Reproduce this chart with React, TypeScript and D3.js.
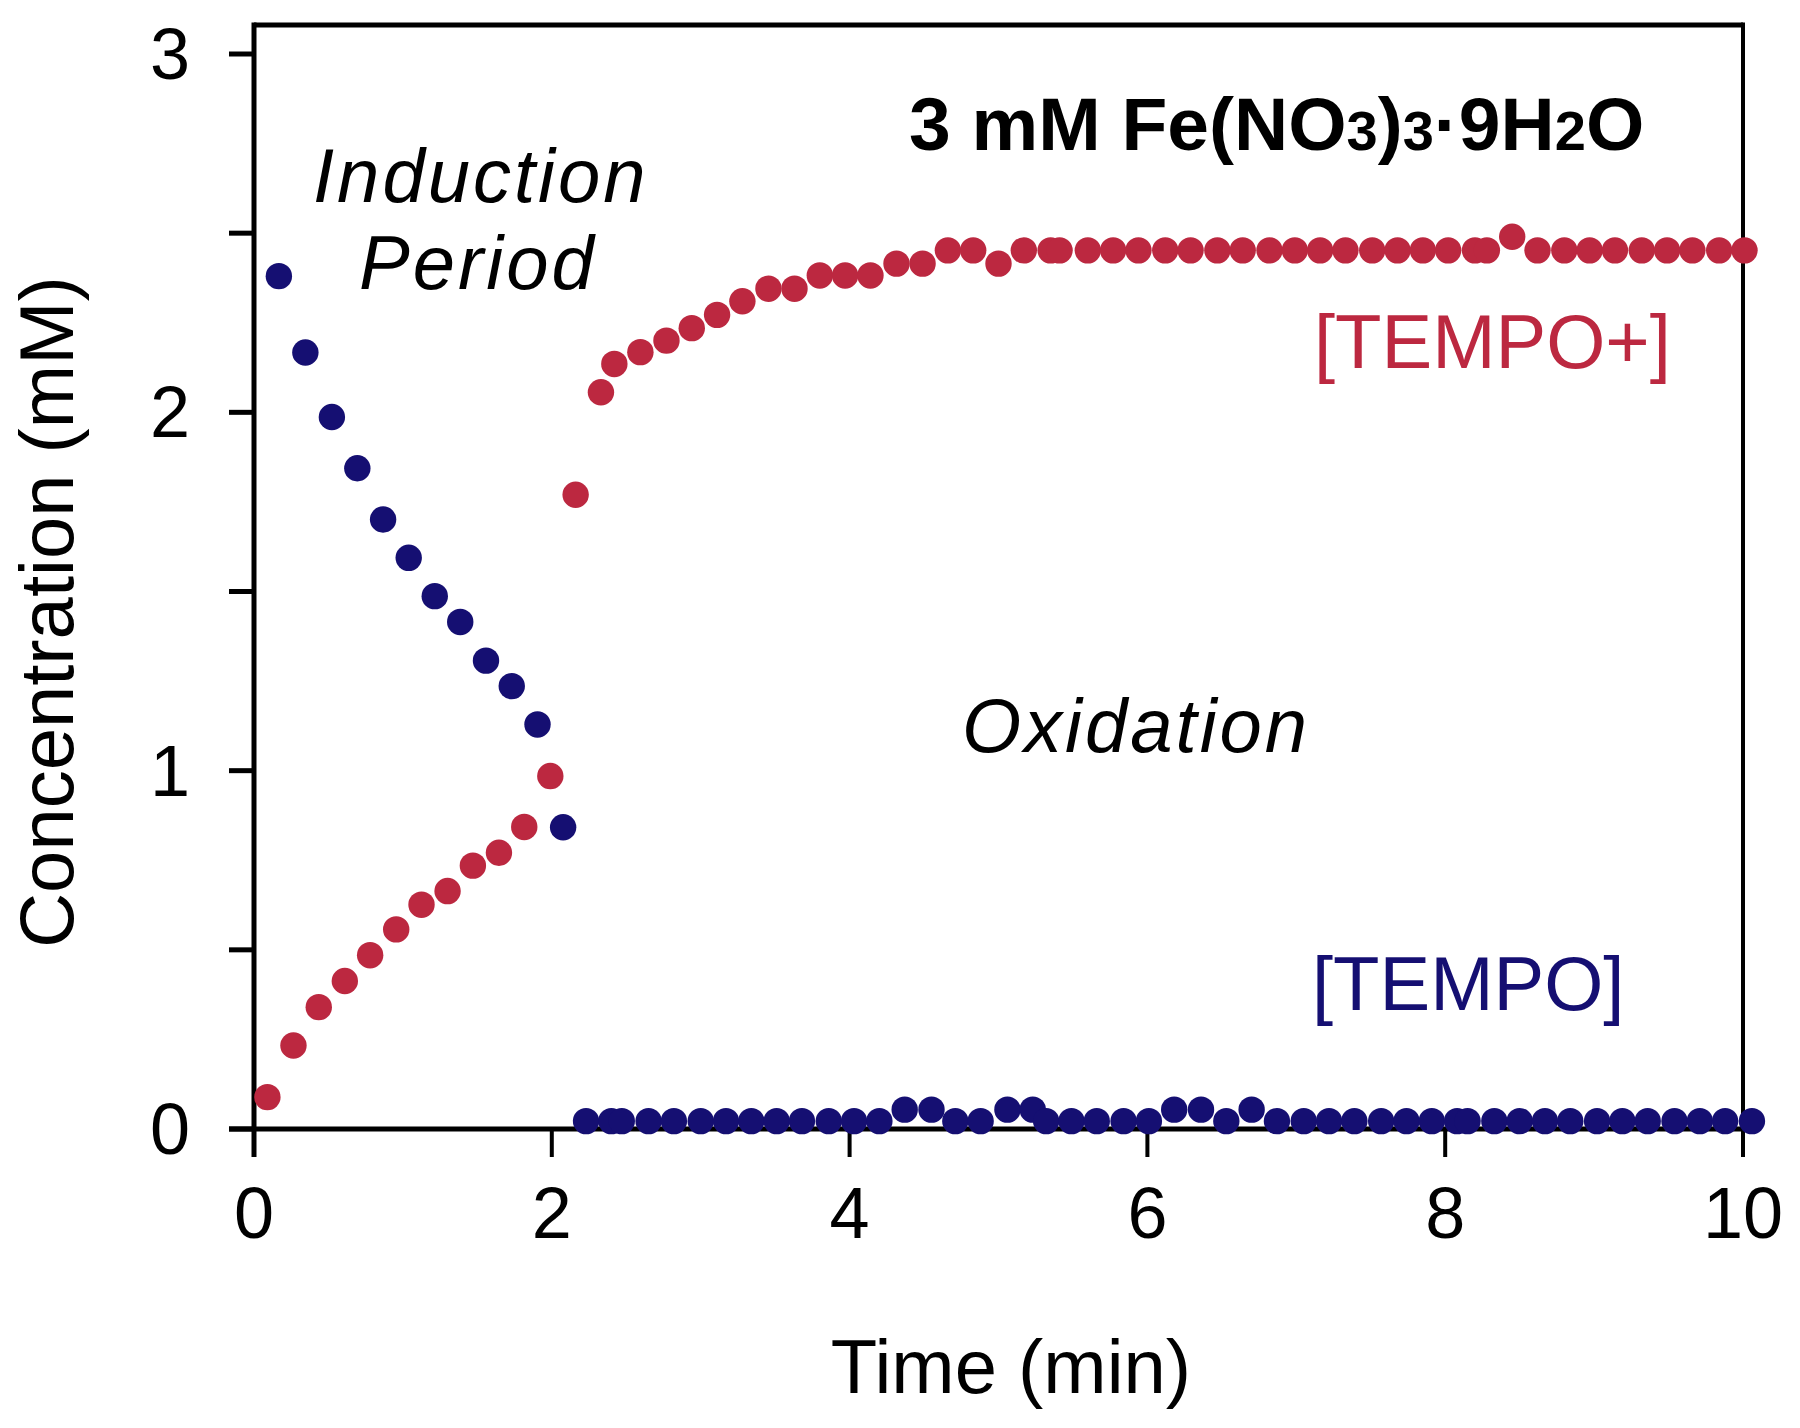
import React from "react";
import * as d3 from "d3";

// ---- Data ----
const tempoPlusTime = [
  0.09, 0.265, 0.435, 0.61, 0.78, 0.955, 1.125, 1.3, 1.47, 1.645, 1.815, 1.99, 2.16,
  2.33, 2.42, 2.595, 2.77, 2.94, 3.11, 3.28, 3.455, 3.63, 3.8, 3.97, 4.14, 4.315, 4.49,
  4.66, 4.83, 5.0, 5.17, 5.35, 5.41, 5.6, 5.77, 5.94, 6.12, 6.29, 6.47, 6.64, 6.82, 6.99,
  7.16, 7.33, 7.51, 7.68, 7.85, 8.02, 8.2, 8.28, 8.45, 8.62, 8.8, 8.97, 9.14, 9.32, 9.49,
  9.66, 9.84, 10.01,
];
const tempoPlusConc = [
  0.089, 0.233, 0.34, 0.413, 0.485, 0.557, 0.626, 0.664, 0.735, 0.771, 0.843, 0.985, 1.77,
  2.056, 2.135, 2.168, 2.2, 2.235, 2.272, 2.31, 2.345, 2.345, 2.382, 2.382, 2.382, 2.415, 2.415,
  2.452, 2.452, 2.415, 2.452, 2.452, 2.452, 2.452, 2.452, 2.452, 2.452, 2.452, 2.452, 2.452, 2.452, 2.452,
  2.452, 2.452, 2.452, 2.452, 2.452, 2.452, 2.452, 2.452, 2.49, 2.452, 2.452, 2.452, 2.452, 2.452, 2.452,
  2.452, 2.452, 2.452,
];
const tempoTime = [
  0.167, 0.345, 0.523, 0.694, 0.867, 1.039, 1.214, 1.385, 1.558, 1.731, 1.904, 2.076,
  2.23, 2.4, 2.47, 2.65, 2.82, 3.0, 3.17, 3.34, 3.51, 3.68, 3.86, 4.03, 4.2, 4.37, 4.55,
  4.71, 4.88, 5.06, 5.23, 5.32, 5.49, 5.66, 5.84, 6.01, 6.18, 6.36, 6.53, 6.7, 6.87, 7.05,
  7.22, 7.39, 7.57, 7.74, 7.91, 8.08, 8.15, 8.33, 8.5, 8.67, 8.84, 9.02, 9.19, 9.36, 9.54,
  9.71, 9.88, 10.06,
];
const tempoConc = [
  2.38, 2.167, 1.987, 1.844, 1.701, 1.594, 1.487, 1.415, 1.307, 1.236, 1.129, 0.842,
  0.022, 0.022, 0.022, 0.022, 0.022, 0.022, 0.022, 0.022, 0.022, 0.022, 0.022, 0.022, 0.022, 0.054, 0.054,
  0.022, 0.022, 0.054, 0.054, 0.022, 0.022, 0.022, 0.022, 0.022, 0.054, 0.054, 0.022, 0.054, 0.022, 0.022,
  0.022, 0.022, 0.022, 0.022, 0.022, 0.022, 0.022, 0.022, 0.022, 0.022, 0.022, 0.022, 0.022, 0.022, 0.022,
  0.022, 0.022, 0.022,
];
const xTicks = [0, 2, 4, 6, 8, 10];
const yTicks = [0, 0.5, 1, 1.5, 2, 2.5, 3];
const yLabelTicks = [0, 1, 2, 3];

const RED = "#BC2840";
const BLUE = "#150F72";
const FONT = "'Liberation Sans', Arial, Helvetica, sans-serif";

export default function App() {
  const W = 1800;
  const H = 1428;
  const x = d3.scaleLinear().domain([0, 10]).range([254, 1743]);
  const y = d3.scaleLinear().domain([0, 3]).range([1129, 54]);
  const topY = 25;
  const r = 13.2;

  const red = tempoPlusTime.map((t, i) => ({ t, c: tempoPlusConc[i] }));
  const blue = tempoTime.map((t, i) => ({ t, c: tempoConc[i] }));

  return (
    <svg width={W} height={H} style={{ display: "block", position: "absolute", left: 0, top: 0 }} fontFamily={FONT}>
      <rect x={0} y={0} width={W} height={H} fill="#fff" />
      {/* frame */}
      <line x1={x(0)} x2={x(10)} y1={topY} y2={topY} stroke="#000" strokeWidth={5} />
      <line x1={x(0)} x2={x(0)} y1={topY - 2.5} y2={y(0) + 28} stroke="#000" strokeWidth={5} />
      <line x1={x(10)} x2={x(10)} y1={topY - 2.5} y2={y(0) + 28} stroke="#000" strokeWidth={4} />
      <line x1={x(0) - 25} x2={x(10)} y1={y(0)} y2={y(0)} stroke="#000" strokeWidth={5} />
      {yTicks.map((v) => (
        <line key={"yt" + v} x1={x(0) - 25} x2={x(0)} y1={y(v)} y2={y(v)} stroke="#000" strokeWidth={5} />
      ))}
      {xTicks.map((v) => (
        <line key={"xt" + v} x1={x(v)} x2={x(v)} y1={y(0)} y2={y(0) + 28} stroke="#000" strokeWidth={4} />
      ))}
      {yLabelTicks.map((v) => (
        <text key={"yl" + v} x={190} y={y(v) + 25} textAnchor="end" fontSize={72} fill="#000">
          {v}
        </text>
      ))}
      {xTicks.map((v) => (
        <text key={"xl" + v} x={x(v)} y={1238} textAnchor="middle" fontSize={72} fill="#000">
          {v}
        </text>
      ))}
      <text x={1011} y={1393} textAnchor="middle" fontSize={76} fill="#000">
        Time (min)
      </text>
      <text transform={`translate(73,612) rotate(-90)`} textAnchor="middle" fontSize={76} fill="#000">
        Concentration (mM)
      </text>

      {/* data */}
      {red.map((d, i) => (
        <circle key={"r" + i} cx={x(d.t)} cy={y(d.c)} r={r} fill={RED} />
      ))}
      {blue.map((d, i) => (
        <circle key={"b" + i} cx={x(d.t)} cy={y(d.c)} r={r} fill={BLUE} />
      ))}

      {/* annotations */}
      <text x={313} y={202} fontSize={76} fontStyle="italic" letterSpacing={3} fill="#000">
        Induction
      </text>
      <text x={359} y={289} fontSize={76} fontStyle="italic" letterSpacing={3} fill="#000">
        Period
      </text>
      <text x={962} y={752} fontSize={76} fontStyle="italic" letterSpacing={3} fill="#000">
        Oxidation
      </text>
      <text x={1314} y={368} fontSize={76} fill={RED}>
        [TEMPO+]
      </text>
      <text x={1312} y={1010} fontSize={76} fill={BLUE}>
        [TEMPO]
      </text>
      <text x={909} y={150} fontSize={75} fontWeight="bold" fill="#000">
        3 mM Fe(NO<tspan fontSize={56}>3</tspan>)<tspan fontSize={56}>3</tspan>·9H<tspan fontSize={56}>2</tspan>O
      </text>
    </svg>
  );
}
